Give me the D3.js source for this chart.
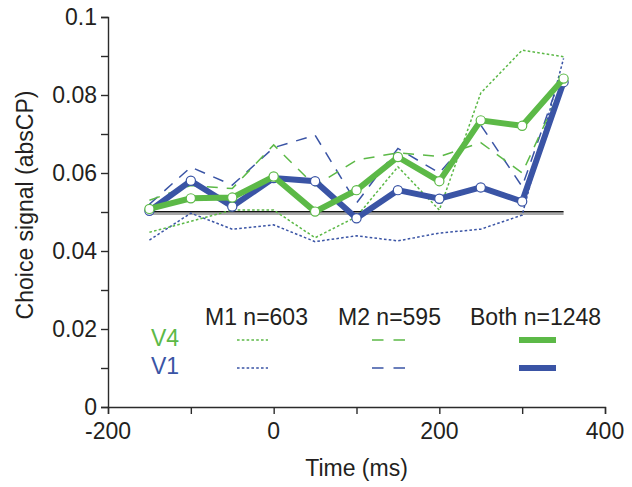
<!DOCTYPE html>
<html>
<head>
<meta charset="utf-8">
<script src="https://cdn.jsdelivr.net/npm/d3@7"></script>
<style>
  html, body { margin: 0; padding: 0; background: #fff; }
  svg { display: block; }
  text { font-family: "Liberation Sans", Arial, Helvetica, sans-serif; fill: #231f20; }
</style>
</head>
<body>
<svg id="chart" width="632" height="487"></svg>
<script>
// Time bins (ms relative to stimulus onset)
const times = [-150, -100, -50, 0, 50, 100, 150, 200, 250, 300, 350];

// Choice signal (absCP) per area and monkey
const bothV4 = [0.0508, 0.0535, 0.0537, 0.0591, 0.0501, 0.0556, 0.0641, 0.0579, 0.0735, 0.0721, 0.0842];
const bothV1 = [0.0503, 0.0580, 0.0514, 0.0587, 0.0579, 0.0484, 0.0556, 0.0534, 0.0563, 0.0527, 0.0833];
const m1V4   = [0.0448, 0.0476, 0.0505, 0.0505, 0.0434, 0.0488, 0.0616, 0.0505, 0.0805, 0.0915, 0.0898];
const m1V1   = [0.0428, 0.0497, 0.0456, 0.0467, 0.0424, 0.0439, 0.0426, 0.0446, 0.0456, 0.0492, 0.0894];
const m2V4   = [0.0530, 0.0568, 0.0560, 0.0672, 0.0567, 0.0633, 0.0652, 0.0642, 0.0678, 0.0600, 0.0830];
const m2V1   = [0.0520, 0.0615, 0.0569, 0.0665, 0.0697, 0.0523, 0.0663, 0.0600, 0.0723, 0.0565, 0.0870];

// Chance-level reference
const baselineValue = 0.0501;

// Axis ticks
const xMajorTicks = [-200, 0, 200, 400];
const xMinorTicks = [-100, 100, 300];
const yMajorTicks = [0, 0.02, 0.04, 0.06, 0.08, 0.1];
const yMinorTicks = [0.01, 0.03, 0.05, 0.07, 0.09];
const yTickLabels = ["0", "0.02", "0.04", "0.06", "0.08", "0.1"];

// Legend text
const monkeyLabels = ["M1 n=603", "M2 n=595", "Both n=1248"];
const areaLabels = ["V4", "V1"];

const green = "#5cb947";
const blue = "#3a54a5";

const svg = d3.select("#chart");
const x = d3.scaleLinear().domain([-200, 400]).range([108, 605]);
const y = d3.scaleLinear().domain([0, 0.1]).range([407, 17]);

const axisColor = "#2b2b2b";
const fontSize = 23;

// Y axis
const yAxis = svg.append("g").attr("transform", `translate(${x(-200)},0)`);
yAxis.call(d3.axisLeft(y).tickValues(yMajorTicks.concat(yMinorTicks)).tickSize(7).tickFormat(""));
yAxis.select(".domain").attr("stroke", axisColor).attr("stroke-width", 1.4);
yAxis.selectAll(".tick line").attr("stroke", axisColor).attr("stroke-width", 1.4);
svg.append("g").selectAll("text").data(yMajorTicks).join("text")
  .attr("x", x(-200) - 11)
  .attr("y", d => y(d))
  .attr("dy", "0.34em")
  .attr("text-anchor", "end")
  .style("font-size", fontSize + "px")
  .text((d, i) => yTickLabels[i]);

// X axis
const xAxis = svg.append("g").attr("transform", `translate(0,${y(0)})`);
xAxis.call(d3.axisBottom(x).tickValues(xMajorTicks.concat(xMinorTicks)).tickSize(7).tickFormat(""));
xAxis.select(".domain").attr("stroke", axisColor).attr("stroke-width", 1.4);
xAxis.selectAll(".tick line").attr("stroke", axisColor).attr("stroke-width", 1.4);
svg.append("g").selectAll("text").data(xMajorTicks).join("text")
  .attr("x", d => x(d))
  .attr("y", y(0) + 32)
  .attr("text-anchor", "middle")
  .style("font-size", fontSize + "px")
  .text(d => d);

// Axis titles
svg.append("text")
  .attr("x", x(100))
  .attr("y", 476)
  .attr("text-anchor", "middle")
  .style("font-size", fontSize + "px")
  .text("Time (ms)");

svg.append("text")
  .attr("transform", `translate(33,205) rotate(-90)`)
  .attr("text-anchor", "middle")
  .style("font-size", fontSize + "px")
  .text("Choice signal (absCP)");

// Baseline with soft grey shadow
svg.append("line")
  .attr("x1", x(-150)).attr("x2", x(350))
  .attr("y1", y(baselineValue) + 1.8).attr("y2", y(baselineValue) + 1.8)
  .attr("stroke", "#a8a8a8").attr("stroke-width", 3);
svg.append("line")
  .attr("x1", x(-150)).attr("x2", x(350))
  .attr("y1", y(baselineValue)).attr("y2", y(baselineValue))
  .attr("stroke", "#111").attr("stroke-width", 1.4);

const line = d3.line().x((d, i) => x(times[i])).y(d => y(d));

const dotted = "2.6,2.2";
const dashed = "11,9";

// Individual monkeys: M1 dotted, M2 dashed
const thinSeries = [
  { values: m1V1, color: blue, dash: dotted },
  { values: m2V1, color: blue, dash: dashed },
  { values: m1V4, color: green, dash: dotted },
  { values: m2V4, color: green, dash: dashed }
];
thinSeries.forEach(s => {
  svg.append("path")
    .attr("d", line(s.values))
    .attr("fill", "none")
    .attr("stroke", s.color)
    .attr("stroke-width", 1.5)
    .attr("stroke-dasharray", s.dash);
});

// Pooled data: thick lines with open markers
[{ values: bothV1, color: blue }, { values: bothV4, color: green }].forEach(s => {
  svg.append("path")
    .attr("d", line(s.values))
    .attr("fill", "none")
    .attr("stroke", s.color)
    .attr("stroke-width", 6)
    .attr("stroke-linejoin", "miter");
  svg.append("g").selectAll("circle").data(s.values).join("circle")
    .attr("cx", (d, i) => x(times[i]))
    .attr("cy", d => y(d))
    .attr("r", 4.6)
    .attr("fill", "#fff")
    .attr("stroke", s.color)
    .attr("stroke-width", 1.2);
});

// Legend
const legendHeaderX = [205, 338, 470];
svg.append("g").selectAll("text").data(monkeyLabels).join("text")
  .attr("x", (d, i) => legendHeaderX[i])
  .attr("y", 325)
  .style("font-size", fontSize + "px")
  .text(d => d);

const legendRowY = [340, 368];
const legendColors = [green, blue];
svg.append("g").selectAll("text").data(areaLabels).join("text")
  .attr("x", 151)
  .attr("y", (d, i) => legendRowY[i] + 5.5)
  .style("font-size", fontSize + "px")
  .style("fill", (d, i) => legendColors[i])
  .text(d => d);

legendRowY.forEach((ly, i) => {
  const c = legendColors[i];
  svg.append("line")
    .attr("x1", 237).attr("x2", 268).attr("y1", ly).attr("y2", ly)
    .attr("stroke", c).attr("stroke-width", 1.5).attr("stroke-dasharray", dotted);
  svg.append("line")
    .attr("x1", 372).attr("x2", 405).attr("y1", ly).attr("y2", ly)
    .attr("stroke", c).attr("stroke-width", 1.5).attr("stroke-dasharray", "11.5,10");
  svg.append("line")
    .attr("x1", 519).attr("x2", 556).attr("y1", ly).attr("y2", ly)
    .attr("stroke", c).attr("stroke-width", 6);
});
</script>
</body>
</html>
